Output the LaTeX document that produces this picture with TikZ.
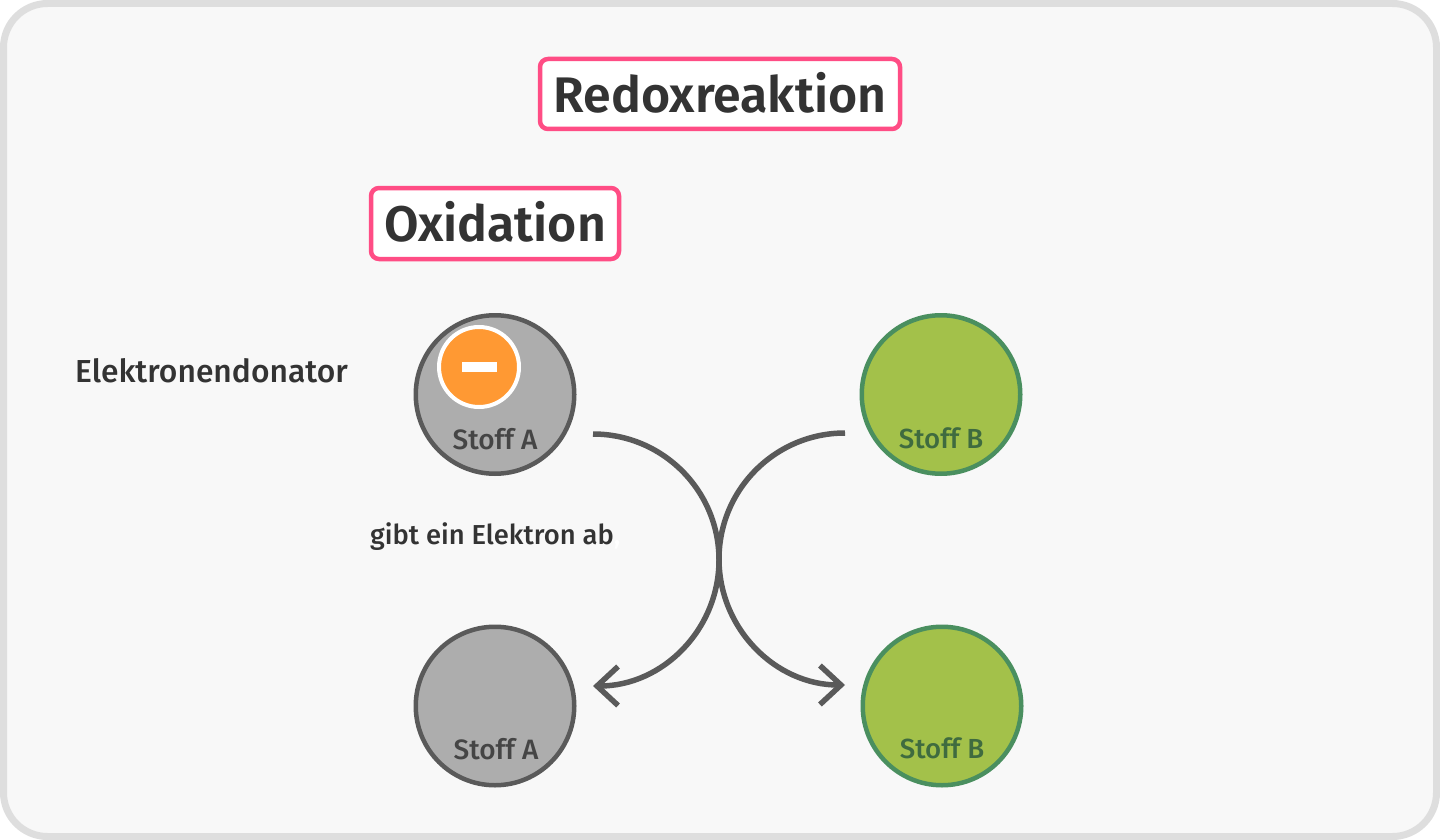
\documentclass[tikz,border=0pt]{standalone}
\usepackage{fontspec}
\setmainfont{Noto Sans}
\newfontfamily\medf{Fira Sans Medium}
\newfontfamily\semif{Fira Sans SemiBold}
\usetikzlibrary{arrows.meta}
\definecolor{frameline}{HTML}{DEDEDE}
\definecolor{framefill}{HTML}{F8F8F8}
\definecolor{pinkline}{HTML}{FF4D85}
\definecolor{ink}{HTML}{333333}
\definecolor{grayfill}{HTML}{ADADAD}
\definecolor{grayline}{HTML}{5A5A5A}
\definecolor{graytext}{HTML}{454545}
\definecolor{greenfill}{HTML}{A3C14A}
\definecolor{greenline}{HTML}{4A8F5F}
\definecolor{greentext}{HTML}{3F6B3F}
\definecolor{orangefill}{HTML}{FF9933}
\newcommand{\fsz}[1]{\fontsize{#1}{#1}\selectfont}
\tikzset{
  x=1pt,y=-1pt,
  titlebox/.style={draw=pinkline,line width=4.5pt,fill=white,rounded corners=8pt},
  titletext/.style={text=ink,inner sep=0pt,anchor=base,font=\semif\fsz{50}},
  plain/.style={text=ink,inner sep=0pt,anchor=base west,font=\medf\fsz{31.8}},
  graycirc/.style={circle,draw=grayline,fill=grayfill,line width=4.5pt,minimum size=158.5pt,inner sep=0pt},
  greencirc/.style={circle,draw=greenline,fill=greenfill,line width=4.5pt,minimum size=158.5pt,inner sep=0pt},
  graylabel/.style={text=graytext,inner sep=0pt,anchor=base,font=\medf\fsz{28}},
  greenlabel/.style={text=greentext,inner sep=0pt,anchor=base,font=\medf\fsz{27.6}},
  electron/.style={circle,draw=white,fill=orangefill,line width=4pt,minimum size=80pt,inner sep=0pt},
  minusbar/.style={fill=white,minimum width=35pt,minimum height=10pt,inner sep=0pt},
  curvearrow/.style={draw=grayline,line width=5.5pt,-{Straight Barb[length=21pt,width=39pt]}},
}
\begin{document}
\begin{tikzpicture}
\useasboundingbox (0,0) rectangle (1440,840);
\draw[draw=frameline,fill=framefill,line width=7pt,rounded corners=44pt] (3.5,3.5) rectangle (1436.5,836.5);
% title boxes
\draw[titlebox] (540,59) rectangle (900,129);
\node[titletext] (redox) at (720,112.5) {Redoxreaktion};
\draw[titlebox] (371,188) rectangle (619,259);
\node[titletext] (oxid) at (495,241) {Oxidation};
% circles
\node[graycirc] (a1) at (495,394.5) {};
\node[graycirc] (a2) at (495,706) {};
\node[greencirc] (b1) at (941,394.5) {};
\node[greencirc] (b2) at (942,706) {};
\node[electron] (e) at (479,367) {};
\node[minusbar] (m) at (e.center) {};
% labels
\node[graylabel] (la1) at (495,449) {Stoff A};
\node[graylabel] (la2) at (496,759) {Stoff A};
\node[greenlabel] (lb1) at (941,448.5) {Stoff B};
\node[greenlabel] (lb2) at (942,758.5) {Stoff B};
\node[plain] (don) at (75,382) {Elektronendonator};
\node[plain,font=\medf\fsz{27.4}] (gibt) at (370,544) {gibt ein Elektron ab\textcolor{white}{,}};
% connectors
\coordinate (s1) at ([xshift=98pt,yshift=-39.5pt]a1.center);
\coordinate (s2) at ([xshift=-96pt,yshift=-38.5pt]b1.center);
\draw[curvearrow] (s1) arc[start angle=-90,end angle=90,radius=126];
\draw[curvearrow] (s2) arc[start angle=-90,end angle=-270,radius=126];
\end{tikzpicture}
\end{document}
